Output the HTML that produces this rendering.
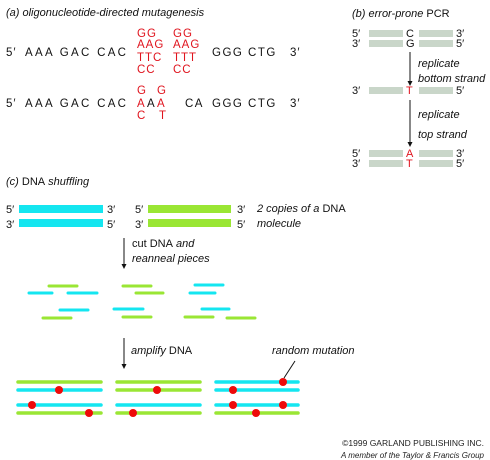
<!DOCTYPE html>
<html><head><meta charset="utf-8"><style>
html,body{margin:0;padding:0;background:#fff;}
svg{display:block;font-family:"Liberation Sans",sans-serif;}
.t{font-size:11px;fill:#111}
.i{font-style:italic}
.r{fill:#e0141e}
.seq{font-size:11.5px;letter-spacing:1px}
.bk{letter-spacing:2.3px}
.bk2{letter-spacing:1.5px}
</style></head><body>
<svg width="490" height="460" viewBox="0 0 490 460">
<!-- (a) -->
<text x="6" y="16" class="t i">(a) oligonucleotide-directed mutagenesis</text>
<g class="t seq">
<text x="6" y="56">5′</text><text x="25" y="56" class="bk">AAA GAC CAC</text>
<text x="212" y="56" class="bk2">GGG CTG</text><text x="290" y="56">3′</text>
</g>
<g class="t seq r">
<text x="137" y="37">GG</text><text x="173" y="37">GG</text>
<text x="137" y="48">AAG</text><text x="173" y="48">AAG</text>
<text x="137" y="61">TTC</text><text x="173" y="61">TTT</text>
<text x="137" y="73">CC</text><text x="173" y="73">CC</text>
</g>
<g class="t seq">
<text x="6" y="107">5′</text><text x="25" y="107" class="bk">AAA GAC CAC</text>
<text x="147" y="107">A</text>
<text x="185" y="107" class="bk2">CA</text><text x="212" y="107" class="bk2">GGG CTG</text><text x="290" y="107">3′</text>
</g>
<g class="t seq r">
<text x="137" y="94">G</text><text x="157" y="94">G</text>
<text x="137" y="107">A</text><text x="157" y="107">A</text>
<text x="137" y="119">C</text><text x="159" y="119">T</text>
</g>
<!-- (b) -->
<text x="352" y="17" class="t i">(b) <tspan>error-prone</tspan> <tspan font-style="normal">PCR</tspan></text>
<g fill="#c9d6c9">
<rect x="369" y="30" width="34" height="7"/><rect x="419" y="30" width="34" height="7"/>
<rect x="369" y="40" width="34" height="7"/><rect x="419" y="40" width="34" height="7"/>
<rect x="369" y="87" width="34" height="7"/><rect x="419" y="87" width="34" height="7"/>
<rect x="369" y="150" width="34" height="7"/><rect x="419" y="150" width="34" height="7"/>
<rect x="369" y="160" width="34" height="7"/><rect x="419" y="160" width="34" height="7"/>
</g>
<g class="t">
<text x="352" y="37">5′</text><text x="406" y="37">C</text><text x="456" y="37">3′</text>
<text x="352" y="47">3′</text><text x="406" y="47">G</text><text x="456" y="47">5′</text>
<text x="352" y="94">3′</text><text x="406" y="94" class="r">T</text><text x="456" y="94">5′</text>
<text x="352" y="157">5′</text><text x="406" y="157" class="r">A</text><text x="456" y="157">3′</text>
<text x="352" y="167">3′</text><text x="406" y="167" class="r">T</text><text x="456" y="167">5′</text>
<text x="418" y="67" class="i">replicate</text><text x="418" y="82" class="i">bottom strand</text>
<text x="418" y="118" class="i">replicate</text><text x="418" y="138" class="i">top strand</text>
</g>
<g stroke="#111" stroke-width="1"><line x1="410" y1="52" x2="410" y2="82"/><line x1="410" y1="100" x2="410" y2="143"/></g>
<g fill="#111"><path d="M407.5,81 L412.5,81 L410,86Z"/><path d="M407.5,142 L412.5,142 L410,147Z"/></g>
<!-- (c) -->
<text x="6" y="185" class="t i">(c) <tspan font-style="normal">DNA</tspan> shuffling</text>
<rect x="19" y="205" width="84" height="8" fill="#14e6f0"/>
<rect x="19" y="219" width="84" height="8" fill="#14e6f0"/>
<rect x="148" y="205" width="83" height="8" fill="#9ae634"/>
<rect x="148" y="219" width="83" height="8" fill="#9ae634"/>
<g class="t">
<text x="6" y="213">5′</text><text x="6" y="228">3′</text>
<text x="107" y="213">3′</text><text x="107" y="228">5′</text>
<text x="135" y="213">5′</text><text x="135" y="228">3′</text>
<text x="237" y="213">3′</text><text x="237" y="228">5′</text>
<text x="257" y="212" class="i">2 copies of a <tspan font-style="normal">DNA</tspan></text>
<text x="257" y="227" class="i">molecule</text>
<text x="132" y="247" class="i"><tspan font-style="normal">cut DNA</tspan> and</text>
<text x="132" y="262" class="i">reanneal pieces</text>
<text x="131" y="354" class="i">amplify <tspan font-style="normal">DNA</tspan></text>
<text x="272" y="354" class="i">random mutation</text>
</g>
<g stroke="#111" stroke-width="1"><line x1="124" y1="238" x2="124" y2="265"/><line x1="124" y1="338" x2="124" y2="365"/><line x1="295" y1="361" x2="284" y2="378"/></g>
<g fill="#111"><path d="M121.5,264 L126.5,264 L124,269Z"/><path d="M121.5,364 L126.5,364 L124,369Z"/></g>
<g stroke-width="3" stroke-linecap="round" fill="none">
<g stroke="#9ae634">
<line x1="49" y1="286" x2="77" y2="286"/><line x1="43" y1="318" x2="71" y2="318"/>
<line x1="123" y1="286" x2="151" y2="286"/><line x1="136" y1="293" x2="163" y2="293"/>
<line x1="123" y1="317" x2="151" y2="317"/><line x1="185" y1="317" x2="213" y2="317"/>
<line x1="227" y1="318" x2="255" y2="318"/>
</g>
<g stroke="#14e6f0">
<line x1="29" y1="293" x2="52" y2="293"/><line x1="68" y1="293" x2="97" y2="293"/>
<line x1="60" y1="310" x2="88" y2="310"/><line x1="114" y1="309" x2="143" y2="309"/>
<line x1="195" y1="285" x2="223" y2="285"/><line x1="190" y1="293" x2="215" y2="293"/>
<line x1="202" y1="309" x2="229" y2="309"/>
</g>
</g>
<g stroke-width="3.5" stroke-linecap="round">
<line x1="18" y1="382" x2="101" y2="382" stroke="#9ae634"/>
<line x1="18" y1="390" x2="101" y2="390" stroke="#14e6f0"/>
<line x1="18" y1="405" x2="101" y2="405" stroke="#14e6f0"/>
<line x1="18" y1="413" x2="101" y2="413" stroke="#9ae634"/>
<line x1="117" y1="382" x2="200" y2="382" stroke="#9ae634"/>
<line x1="117" y1="390" x2="200" y2="390" stroke="#9ae634"/>
<line x1="117" y1="405" x2="200" y2="405" stroke="#14e6f0"/>
<line x1="117" y1="413" x2="200" y2="413" stroke="#9ae634"/>
<line x1="216" y1="382" x2="298" y2="382" stroke="#14e6f0"/>
<line x1="216" y1="390" x2="298" y2="390" stroke="#14e6f0"/>
<line x1="216" y1="405" x2="298" y2="405" stroke="#14e6f0"/>
<line x1="216" y1="413" x2="298" y2="413" stroke="#9ae634"/>
</g>
<g fill="#ee0a0a">
<circle cx="59" cy="390" r="4"/><circle cx="32" cy="405" r="4"/><circle cx="89" cy="413" r="4"/>
<circle cx="157" cy="390" r="4"/><circle cx="133" cy="413" r="4"/>
<circle cx="283" cy="382" r="4"/><circle cx="233" cy="390" r="4"/><circle cx="233" cy="405" r="4"/><circle cx="283" cy="405" r="4"/><circle cx="256" cy="413" r="4"/>
</g>
<text x="484" y="446" text-anchor="end" style="font-size:8.5px;fill:#222">©1999 GARLAND PUBLISHING INC.</text>
<text x="484" y="458" text-anchor="end" style="font-size:8px;fill:#222;font-style:italic">A member of the Taylor &amp; Francis Group</text>
</svg>
</body></html>
